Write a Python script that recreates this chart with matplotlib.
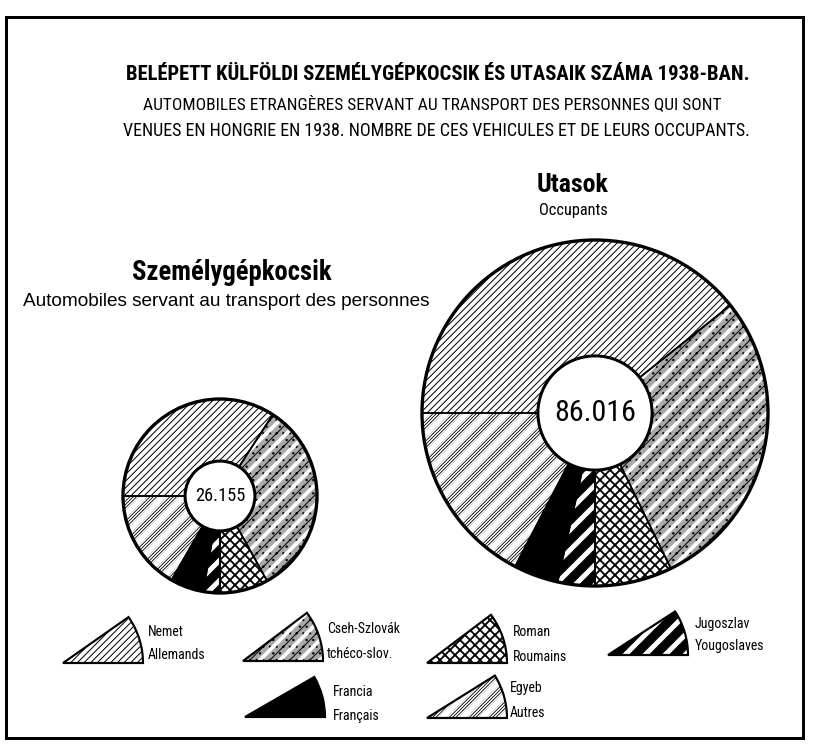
import matplotlib
matplotlib.use('Agg')
import matplotlib.pyplot as plt
from matplotlib.patches import Wedge, Rectangle, Circle
from matplotlib import font_manager as fm

# ---------------- data ----------------
categories_hu = ['Nemet', 'Cseh-Szlovák', 'Roman', 'Jugoszlav', 'Francia', 'Egyeb']
categories_fr = ['Allemands', 'tchéco-slov.', 'Roumains', 'Yougoslaves', 'Français', 'Autres']
cars = [8936, 8573, 2107, 727, 1453, 4359]            # Személygépkocsik, total 26.155
occupants = [33809, 24491, 6212, 2987, 3584, 14933]   # Utasok, total 86.016

title = 'BELÉPETT KÜLFÖLDI SZEMÉLYGÉPKOCSIK ÉS UTASAIK SZÁMA 1938-BAN.'
subtitle1 = 'AUTOMOBILES ETRANGÈRES SERVANT AU TRANSPORT DES PERSONNES QUI SONT'
subtitle2 = 'VENUES EN HONGRIE EN 1938. NOMBRE DE CES VEHICULES ET DE LEURS OCCUPANTS.'

# ---------------- style ----------------
W, H, DPI = 817, 756, 120


def pick(names):
    for n in names:
        try:
            fm.findfont(fm.FontProperties(family=n), fallback_to_default=False)
            return n
        except Exception:
            pass
    return 'DejaVu Sans'


COND = pick(['Liberation Sans Narrow', 'Roboto Condensed', 'Liberation Sans'])
REG = pick(['Liberation Sans', 'Roboto', 'DejaVu Sans'])

faces = ['white', '#a9a9a9', 'white', 'black', 'black', 'white']
hatch1 = ['//////', '////...', 'xxxx', '', '', '/' * 12]
hlw1 = [0.6, 0.6, 1.1, 0.5, 0.5, 0.5]
hatch2 = ['', '//', '', '//', '', '//']
hlw2 = [0.5, 2.2, 0.5, 3.0, 0.5, 3.5]


def set_hlw(p, w):
    try:
        p.set_hatch_linewidth(w)
    except Exception:
        pass


fig = plt.figure(figsize=(W / DPI, H / DPI), dpi=DPI)
bg = fig.add_axes([0, 0, 1, 1])
bg.set_xlim(0, W)
bg.set_ylim(H, 0)
bg.axis('off')

# frame
bg.add_patch(Rectangle((6, 17), 797, 721, fill=False, lw=1.8, ec='black'))

# texts
bg.text(438, 75, title, ha='center', va='center', family=COND, fontweight='bold', fontsize=12.4)
bg.text(432, 104, subtitle1, ha='center', va='center', family=COND, fontsize=10.4)
bg.text(436, 131, subtitle2, ha='center', va='center', family=COND, fontsize=10.8)
bg.text(573, 185, 'Utasok', ha='center', va='center', family=COND, fontweight='bold', fontsize=15.5)
bg.text(573, 211, 'Occupants', ha='center', va='center', family=COND, fontsize=9.8)
bg.text(232, 273, 'Személygépkocsik', ha='center', va='center', family=COND, fontweight='bold', fontsize=16)
bg.text(226, 301, 'Automobiles servant au transport des personnes', ha='center', va='center',
        family=REG, fontsize=11.4)


def draw_donut(cx, cy, r, values, hole, fs):
    p = 1.04
    ax = fig.add_axes([(cx - r * p) / W, (H - cy - r * p) / H, 2 * r * p / W, 2 * r * p / H])
    kw = dict(startangle=180, counterclock=False, radius=1)
    w = 1 - hole
    base, _ = ax.pie(values, colors=faces, hatch=hatch1,
                     wedgeprops=dict(width=w, linewidth=0), **kw)
    for wd, lw in zip(base, hlw1):
        wd.set_edgecolor('black')
        wd.set_linewidth(0)
        set_hlw(wd, lw)
    over, _ = ax.pie(values, colors=['none'] * 6, hatch=hatch2,
                     wedgeprops=dict(width=w, linewidth=0), **kw)
    for wd, h, lw in zip(over, hatch2, hlw2):
        wd.set_facecolor('none')
        wd.set_edgecolor('white' if h else 'none')
        wd.set_linewidth(0)
        set_hlw(wd, lw)
    ax.pie(values, colors=['none'] * 6,
           wedgeprops=dict(width=w, linewidth=1.0, edgecolor='black', fill=False), **kw)
    ax.add_patch(Circle((0, 0), 1, fill=False, lw=2.0, ec='black'))
    ax.add_patch(Circle((0, 0), hole, fill=False, lw=1.8, ec='black'))
    total = f"{sum(values):,}".replace(',', '.')
    ax.text(0, 0, total, ha='center', va='center', family=COND, fontsize=fs)
    ax.set_xlim(-p, p)
    ax.set_ylim(-p, p)
    ax.set_aspect('equal')
    ax.axis('off')
    return ax


draw_donut(220, 496, 97, cars, 0.36, 11)
draw_donut(595, 413, 173, occupants, 0.33, 18)

# legend glyphs
leg = [  # (cx, cy, angle, label x, y1, y2)
    (63, 663, 35, 148, 632, 655),
    (243, 661, 37, 327, 629, 654),
    (427, 663, 37, 513, 632, 657),
    (608, 655, 33, 695, 624, 646),
    (245, 717, 30, 333, 692, 716),
    (427, 718, 32, 510, 688, 713),
]
for i, (x0, y0, ang, lx, y1, y2) in enumerate(leg):
    R = 80
    b = Wedge((x0, y0), R, -ang, 0, facecolor=faces[i], edgecolor='black',
              hatch=hatch1[i] or None, lw=0)
    set_hlw(b, hlw1[i])
    bg.add_patch(b)
    if hatch2[i]:
        o = Wedge((x0, y0), R, -ang, 0, facecolor='none', edgecolor='white',
                  hatch=hatch2[i], lw=0)
        set_hlw(o, hlw2[i])
        bg.add_patch(o)
    bg.add_patch(Wedge((x0, y0), R, -ang, 0, fill=False, edgecolor='black', lw=1.3))
    bg.text(lx, y1, categories_hu[i], ha='left', va='center', family=COND, fontsize=8.3)
    bg.text(lx, y2, categories_fr[i], ha='left', va='center', family=COND, fontsize=8.3)

fig.savefig('out.png', dpi=DPI, facecolor='white')
